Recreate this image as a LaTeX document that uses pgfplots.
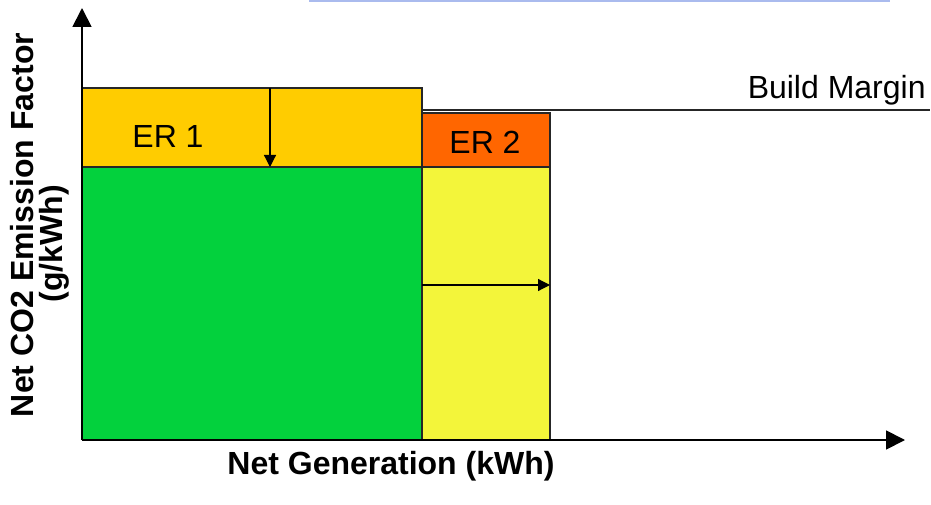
\documentclass[border=0pt]{standalone}
\usepackage{pgfplots}
\pgfplotsset{compat=1.18}
\usepackage{fontspec}
\setmainfont{Liberation Sans}
\usetikzlibrary{arrows.meta}
\definecolor{erone}{RGB}{255,204,0}
\definecolor{grn}{RGB}{3,209,61}
\definecolor{ylw}{RGB}{243,245,58}
\definecolor{ertwo}{RGB}{255,102,0}
\definecolor{blu}{RGB}{170,187,238}
\begin{document}
\begin{tikzpicture}
\begin{axis}[x=0.5pt,y=0.5pt,xmin=-82,xmax=849,ymin=-64,ymax=440,
  axis lines=none, clip=false]
% bounding frame (invisible)
\path (axis cs:-82,-64) rectangle (axis cs:849,440);
% blocks
\addplot[fill=grn, draw=black!85, line width=0.6pt] coordinates {(0,0) (340,0) (340,273) (0,273) (0,0)};
\addplot[fill=erone, draw=black!85, line width=0.6pt] coordinates {(0,273) (340,273) (340,352) (0,352) (0,273)};
\addplot[fill=ylw, draw=black!85, line width=0.6pt] coordinates {(340,0) (468,0) (468,273) (340,273) (340,0)};
\addplot[fill=ertwo, draw=black!85, line width=0.6pt] coordinates {(340,273) (468,273) (468,327) (340,327) (340,273)};
% build margin line
\addplot[black!85, line width=0.6pt] coordinates {(340,330) (848,330)};
% inner arrows
\addplot[black, line width=0.6pt, -{Triangle[length=6pt,width=6pt]}] coordinates {(188,352) (188,273)};
\addplot[black, line width=0.6pt, -{Triangle[length=6pt,width=6pt]}] coordinates {(340,155) (468,155)};
% axes
\addplot[black, line width=0.9pt, -{Triangle[length=9.5pt,width=9.5pt]}] coordinates {(0,0) (0,432)};
\addplot[black, line width=0.9pt, -{Triangle[length=9.5pt,width=9.5pt]}] coordinates {(0,0) (823,0)};
% blue line at top
\addplot[blu, line width=0.8pt] coordinates {(227,439) (808,439)};
% texts
\node[font=\fontsize{16}{19}\selectfont] at (axis cs:86,304) {ER 1};
\node[font=\fontsize{16}{19}\selectfont] at (axis cs:403,298) {ER 2};
\node[font=\fontsize{16}{19}\selectfont, anchor=east, inner sep=0pt] at (axis cs:844,350) {Build Margin};
\node[font=\fontsize{16}{19}\selectfont\bfseries] at (axis cs:309,-26) {Net Generation (kWh)};
\node[font=\fontsize{16}{19}\selectfont\bfseries, rotate=90] at (axis cs:-60,215) {Net CO2 Emission Factor};
\node[font=\fontsize{16}{19}\selectfont\bfseries, rotate=90] at (axis cs:-28,196) {(g/kWh)};
\end{axis}
\end{tikzpicture}
\end{document}
